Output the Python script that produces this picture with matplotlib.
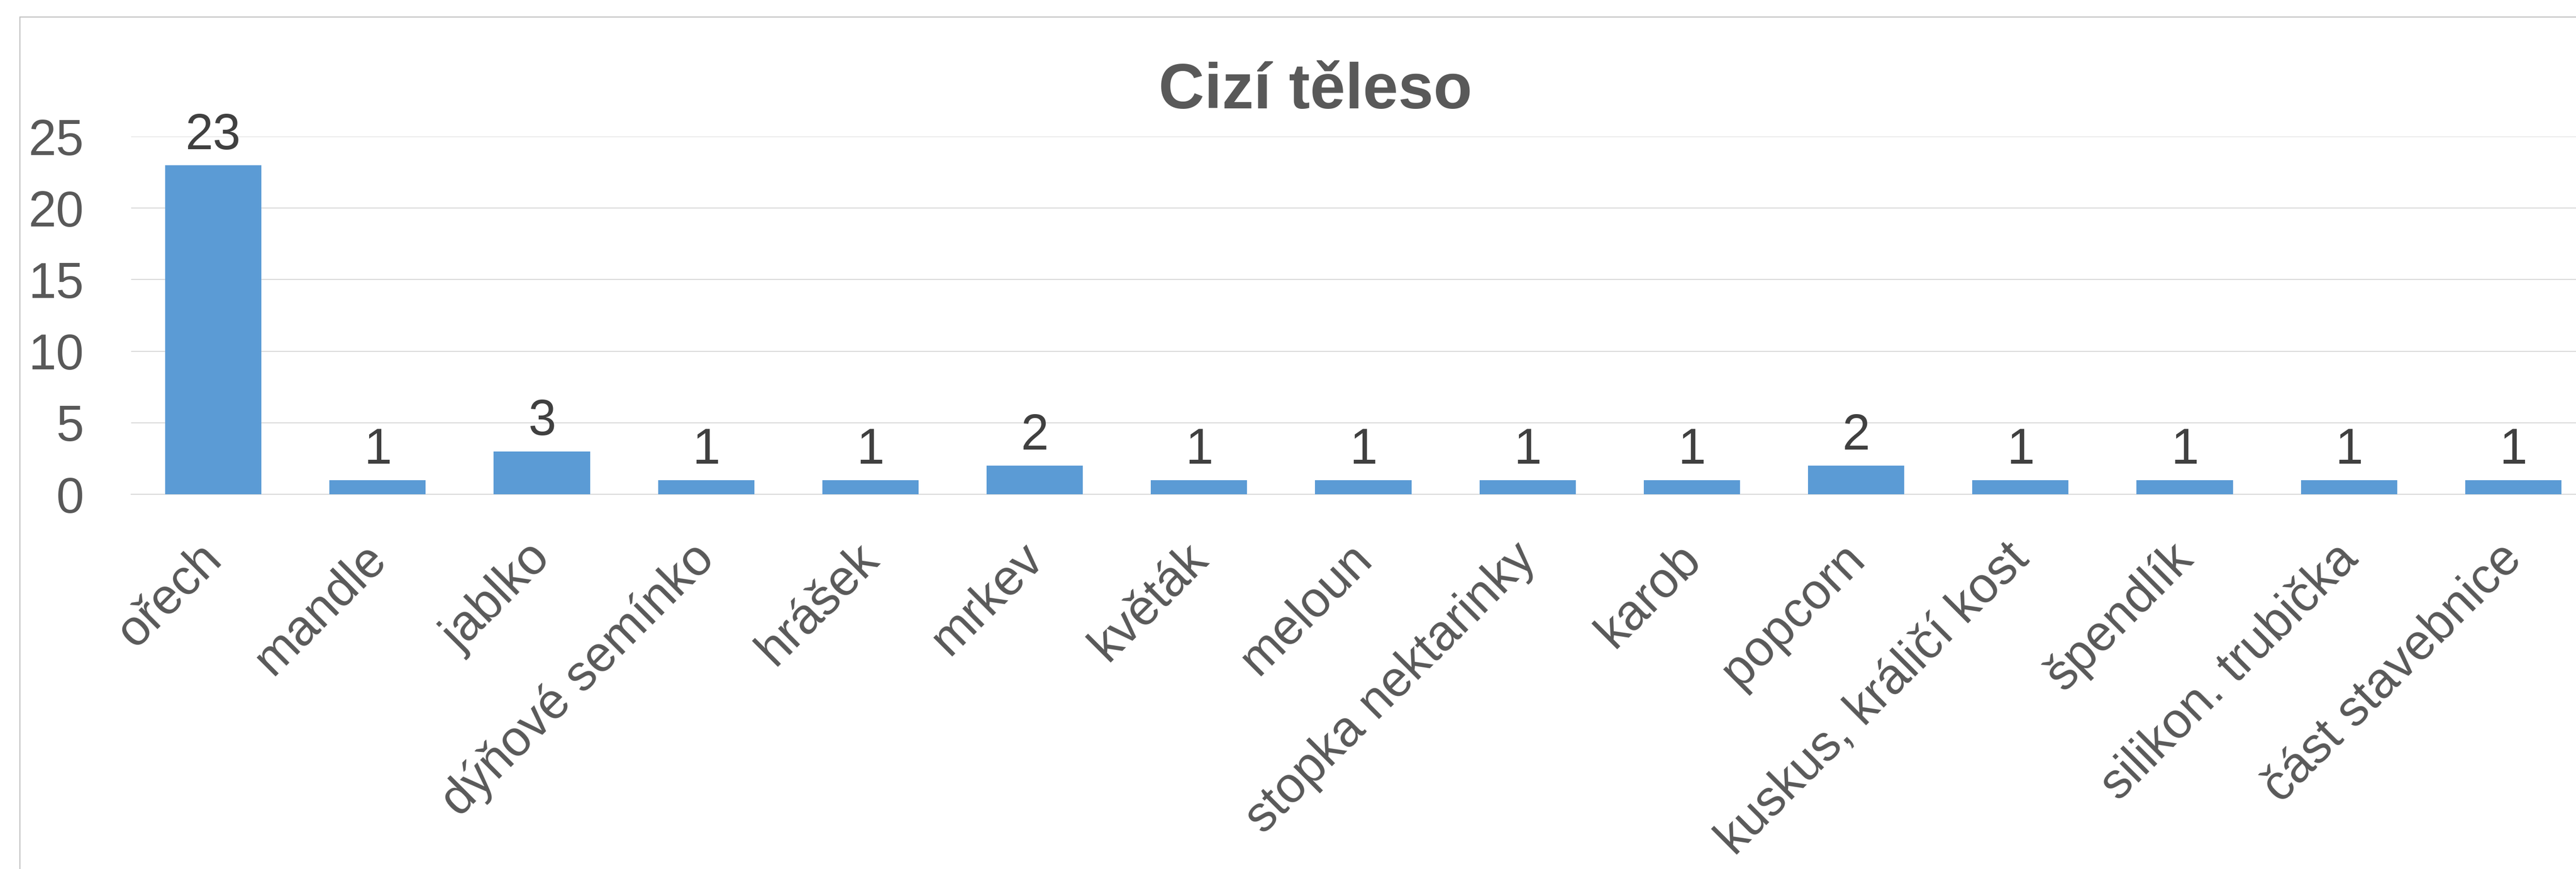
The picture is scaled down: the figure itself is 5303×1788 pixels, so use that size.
#!/usr/bin/env python3

import matplotlib
matplotlib.use('Agg')
import matplotlib.pyplot as plt
from matplotlib.patches import Rectangle
from matplotlib.transforms import ScaledTranslation

categories = ['ořech', 'mandle', 'jablko', 'dýňové semínko', 'hrášek', 'mrkev',
              'květák', 'meloun', 'stopka nektarinky', 'karob', 'popcorn',
              'kuskus, králičí kost', 'špendlík', 'silikon. trubička',
              'část stavebnice']
counts = [23, 1, 3, 1, 1, 2, 1, 1, 1, 1, 2, 1, 1, 1, 1]
yticks = [0, 5, 10, 15, 20, 25]
title = 'Cizí těleso'

plt.rcParams['font.family'] = ['Liberation Sans', 'DejaVu Sans']

W, H, DPI = 5303, 1788, 100
fig = plt.figure(figsize=(W / DPI, H / DPI), dpi=DPI)

# outer chart border (runs off the right and bottom edge like the original)
fig.patches.append(Rectangle((41 / W, -0.1), 1.2, 1 - 35 / H + 0.1,
                             transform=fig.transFigure, fill=False,
                             edgecolor='#BFBFBF', linewidth=1.5, zorder=0))

ax = fig.add_axes([270 / W, 1 - 1017 / H, (5343 - 270) / W, (1017 - 281) / H])

x = list(range(len(categories)))
ax.bar(x, counts, width=0.586, color='#5B9BD5', zorder=3)

for xi, v in zip(x, counts):
    ax.annotate(str(v), (xi, v), xytext=(0, 24), textcoords='offset points',
                ha='center', va='baseline', fontsize=74, color='#404040')

ax.set_xlim(-0.5, len(categories) - 0.5)
ax.set_ylim(0, 25)
ax.set_yticks(yticks)
ax.yaxis.grid(True, color='#D9D9D9', linewidth=1.5, zorder=0)
ax.set_axisbelow(True)

# slanted labels: the end of each baseline sits just right of the tick
ax.set_xticks(x)
ax.set_xticklabels(categories, rotation=45, ha='right', va='baseline',
                   rotation_mode='anchor')
ax.tick_params(axis='x', length=0, pad=98.6, labelsize=74, labelcolor='#595959')
ax.tick_params(axis='y', length=0, pad=70, labelsize=74, labelcolor='#595959')

shift = ScaledTranslation(0.21, 0, fig.dpi_scale_trans)
for lab in ax.get_xticklabels():
    lab.set_transform(lab.get_transform() + shift)

for side in ['top', 'right', 'left']:
    ax.spines[side].set_visible(False)
ax.spines['bottom'].set_color('#D9D9D9')
ax.spines['bottom'].set_linewidth(1.5)

fig.text(2708 / W, 1 - 223 / H, title, ha='center', va='baseline',
         fontsize=94, fontweight='bold', color='#595959')

fig.savefig('out.png', dpi=DPI, facecolor='white')
